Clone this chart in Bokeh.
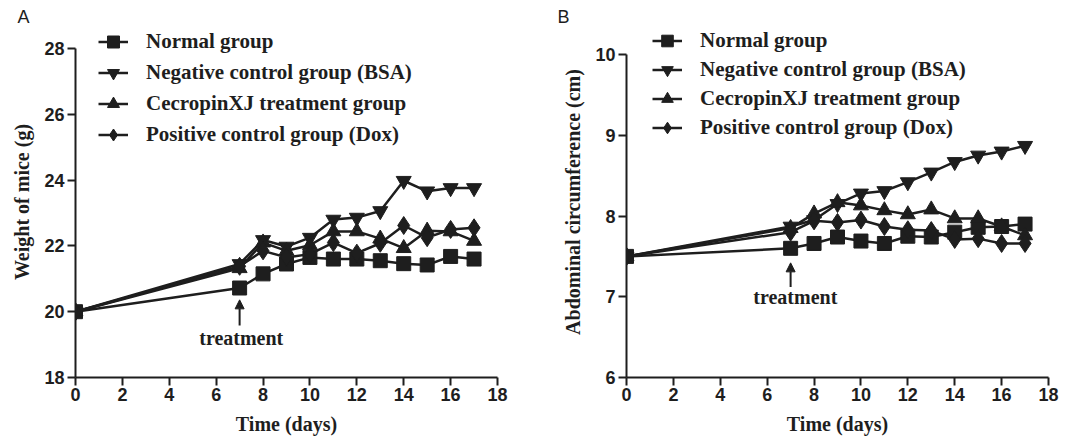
from bokeh.plotting import figure
from bokeh.layouts import row
from bokeh.models import Legend, LegendItem, Label, Arrow, NormalHead, FixedTicker
from bokeh.embed import file_html
from bokeh.resources import INLINE

days = [0, 7, 8, 9, 10, 11, 12, 13, 14, 15, 16, 17]

# Panel A: weight of mice (g)
w_normal = [20.0, 20.72, 21.15, 21.45, 21.65, 21.6, 21.6, 21.55, 21.46, 21.42, 21.68, 21.6]
w_neg = [20.0, 21.45, 22.18, 21.98, 22.25, 22.8, 22.86, 23.06, 23.98, 23.66, 23.76, 23.76]
w_cec = [20.0, 21.32, 22.1, 21.85, 22.02, 22.44, 22.44, 22.22, 21.93, 22.46, 22.44, 22.15]
w_dox = [20.0, 21.38, 21.85, 21.65, 21.75, 22.1, 21.78, 22.08, 22.62, 22.25, 22.5, 22.55]

# Panel B: abdominal circumference (cm)
c_normal = [7.5, 7.6, 7.66, 7.74, 7.69, 7.66, 7.75, 7.74, 7.8, 7.86, 7.87, 7.9]
c_neg = [7.5, 7.87, 7.95, 8.15, 8.28, 8.31, 8.42, 8.54, 8.67, 8.75, 8.8, 8.87]
c_cec = [7.5, 7.85, 8.03, 8.17, 8.13, 8.07, 8.02, 8.08, 7.97, 7.97, 7.87, 7.76]
c_dox = [7.5, 7.8, 7.94, 7.92, 7.95, 7.87, 7.83, 7.82, 7.71, 7.72, 7.66, 7.66]

series_names = ["Normal group", "Negative control group (BSA)",
                "CecropinXJ treatment group", "Positive control group (Dox)"]
markers = ["square", "inverted_triangle", "triangle", "diamond"]
marker_sizes = [14, 15, 15, 18]

x_ticks = [0, 2, 4, 6, 8, 10, 12, 14, 16, 18]
a_ticks = [18, 20, 22, 24, 26, 28]
b_ticks = [6, 7, 8, 9, 10]

a_arrow = (7, 19.58, 20.36)
b_arrow = (7, 7.12, 7.42)
a_text = (7.07, 19.2)
b_text = (7.2, 7.0)

INK = "#1e1e1e"
SANS = "Liberation Sans"
SERIF = "Liberation Serif"
FRAME_H = 351


def make_panel(ys, y_range, y_bounds, y_ticks, y_label, letter, arrow, text_pos,
               border_left, border_right, legend_loc, row_h, letter_offset):
    p = figure(x_range=(0, 18), y_range=y_range,
               frame_width=422, frame_height=FRAME_H,
               min_border_left=border_left, min_border_right=border_right,
               min_border_top=26, min_border_bottom=60,
               output_backend="svg", toolbar_location=None)
    p.grid.visible = False
    p.outline_line_color = None
    p.background_fill_color = "white"
    p.border_fill_color = "white"

    p.title.text = letter
    p.title.align = "left"
    p.title.offset = letter_offset
    p.title.standoff = 0
    p.title.text_font = SANS
    p.title.text_font_style = "normal"
    p.title.text_font_size = "18px"
    p.title.text_color = INK

    for ax in (p.xaxis[0], p.yaxis[0]):
        ax.axis_line_width = 2
        ax.axis_line_color = INK
        ax.major_tick_line_width = 2
        ax.major_tick_line_color = INK
        ax.major_tick_out = 8
        ax.major_tick_in = 0
        ax.minor_tick_line_color = None
        ax.major_label_text_font = SANS
        ax.major_label_text_font_style = "bold"
        ax.major_label_text_font_size = "18px"
        ax.major_label_text_color = INK
        ax.axis_label_text_font = SERIF
        ax.axis_label_text_font_style = "bold"
        ax.axis_label_text_font_size = "20px"
        ax.axis_label_text_color = INK

    p.xaxis.ticker = FixedTicker(ticks=x_ticks)
    p.yaxis.ticker = FixedTicker(ticks=y_ticks)
    p.xaxis.bounds = (0, 18)
    p.yaxis.bounds = y_bounds
    p.xaxis.major_label_standoff = 2
    p.yaxis.major_label_standoff = 3
    p.xaxis.axis_label = "Time (days)"
    p.yaxis.axis_label = y_label
    p.xaxis.axis_label_standoff = 9
    p.yaxis.axis_label_standoff = 8

    items = []
    for name, yv, mk, ms in zip(series_names, ys, markers, marker_sizes):
        ln = p.line(days, yv, line_color=INK, line_width=2.5)
        sc = p.scatter(days, yv, marker=mk, size=ms, fill_color=INK,
                       line_color=INK, line_width=1)
        items.append(LegendItem(label=name, renderers=[ln, sc]))

    legend = Legend(items=items, location=legend_loc,
                    background_fill_alpha=0, border_line_color=None,
                    padding=0, margin=0, spacing=0,
                    glyph_width=30, glyph_height=row_h, label_height=row_h,
                    label_standoff=18,
                    label_text_font=SERIF, label_text_font_style="bold",
                    label_text_font_size="21px", label_text_color=INK)
    p.add_layout(legend, "center")

    p.add_layout(Arrow(end=NormalHead(size=9, fill_color=INK, line_color=INK),
                       x_start=arrow[0], y_start=arrow[1],
                       x_end=arrow[0], y_end=arrow[2],
                       line_width=2, line_color=INK))
    p.add_layout(Label(x=text_pos[0], y=text_pos[1], text="treatment",
                       text_align="center", text_baseline="middle",
                       text_font=SERIF, text_font_style="bold",
                       text_font_size="20px", text_color=INK))
    return p


pa = make_panel([w_normal, w_neg, w_cec, w_dox], (18, 28 + 22 / 32.9), (18, 28),
                a_ticks, "Weight of mice (g)", "A", a_arrow, a_text,
                border_left=75, border_right=46,
                legend_loc=(23, FRAME_H - 4 * 31), row_h=31, letter_offset=-58)
pb = make_panel([c_normal, c_neg, c_cec, c_dox], (6, 10 + 28 / 80.6), (6, 10),
                b_ticks, "Abdominal circumference (cm)", "B", b_arrow, b_text,
                border_left=83, border_right=22,
                legend_loc=(26, FRAME_H - 4 * 29), row_h=29, letter_offset=-69)

layout = row(pa, pb)
open("out.html", "w").write(file_html(layout, INLINE))
